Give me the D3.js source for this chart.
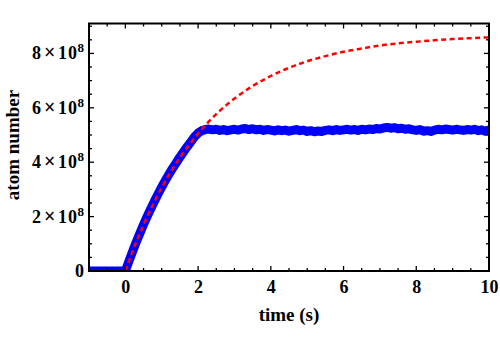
<!DOCTYPE html>
<html>
<head>
<meta charset="utf-8">
<script src="https://cdn.jsdelivr.net/npm/d3@7"></script>
<style>
  html, body { margin: 0; padding: 0; background: #fff; }
  svg { display: block; }
  text { font-family: "Liberation Serif", "DejaVu Serif", serif; font-weight: bold; fill: #000; }
</style>
</head>
<body>
<svg id="chart" width="500" height="350"></svg>
<script>
// Measured atom number (units of 1e8) sampled every 0.1 s from -1 s to 10 s
const measTime = d3.range(0, 111).map(i => Math.round((i * 0.1 - 1) * 10) / 10);
const measAtoms = [
  0, 0, 0, 0, 0, 0, 0, 0, 0, 0, 0,
  0.37, 0.72, 1.07, 1.39, 1.71, 2.01, 2.29, 2.57, 2.83, 3.09,
  3.33, 3.56, 3.78, 3.98, 4.19, 4.38, 4.57, 4.75, 4.93, 5.07,
  5.16, 5.20,
  5.22, 5.19, 5.21, 5.17, 5.20, 5.16, 5.19, 5.21, 5.18, 5.22,
  5.24, 5.20, 5.23, 5.19, 5.21, 5.17, 5.20, 5.18, 5.15, 5.19,
  5.16, 5.18, 5.14, 5.17, 5.20, 5.16, 5.18, 5.13, 5.16, 5.12,
  5.15, 5.13, 5.17, 5.19, 5.16, 5.20, 5.17, 5.19, 5.21, 5.18,
  5.20, 5.17, 5.21, 5.19, 5.22, 5.20, 5.24, 5.22, 5.26, 5.28,
  5.25, 5.27, 5.23, 5.25, 5.21, 5.23, 5.19, 5.17, 5.20, 5.14,
  5.16, 5.13, 5.18, 5.21, 5.19, 5.22, 5.20, 5.18, 5.21, 5.19,
  5.17, 5.20, 5.18, 5.21, 5.16, 5.19, 5.14, 5.18
];

// Loading curve (units of 1e8)
const fitTime  = [0, 0.25, 0.5, 0.75, 1, 1.25, 1.5, 1.75, 2, 2.5, 3, 3.5, 4, 4.5, 5, 5.5, 6, 6.5, 7, 7.5, 8, 8.5, 9, 9.5, 10];
const fitAtoms = [0, 0.90, 1.70, 2.42, 3.07, 3.65, 4.17, 4.63, 5.05, 5.77, 6.34, 6.80, 7.17, 7.47, 7.71, 7.90, 8.06, 8.18, 8.29, 8.37, 8.43, 8.48, 8.53, 8.56, 8.59];

const xMajorTicks = [0, 2, 4, 6, 8, 10];
const yMajorTicks = [0, 2, 4, 6, 8];   // units of 1e8
const xLabel = "time (s)";
const yLabel = "atom number";

const svg = d3.select("#chart");
const frame = { left: 89, right: 489, top: 23.5, bottom: 271 };

const x = d3.scaleLinear().domain([-1, 10]).range([frame.left, frame.right]);
const y = d3.scaleLinear().domain([0, 9.1]).range([frame.bottom, frame.top]);

svg.append("clipPath").attr("id", "plotArea")
  .append("rect")
  .attr("x", frame.left).attr("y", frame.top)
  .attr("width", frame.right - frame.left).attr("height", frame.bottom - frame.top);

const plot = svg.append("g").attr("clip-path", "url(#plotArea)");

const meas = measTime.map((t, i) => [t, measAtoms[i]]);
const fit = fitTime.map((t, i) => [t, fitAtoms[i]]);

const line = d3.line().x(d => x(d[0])).y(d => y(d[1]));

plot.append("path")
  .datum(meas)
  .attr("d", line)
  .attr("fill", "none")
  .attr("stroke", "#0000ff")
  .attr("stroke-width", 9)
  .attr("stroke-linejoin", "round")
  .attr("stroke-linecap", "round");

plot.append("path")
  .datum(fit)
  .attr("d", line.curve(d3.curveMonotoneX))
  .attr("fill", "none")
  .attr("stroke", "#ff0000")
  .attr("stroke-width", 2.5)
  .attr("stroke-dasharray", "5,3.5");

// Frame with inward ticks on all four sides
const xMinor = d3.range(-1, 10.01, 0.5).filter(v => !xMajorTicks.includes(v));
const yMinor = d3.range(0, 9.01, 0.5).filter(v => !yMajorTicks.includes(v));
const majorLen = 5, minorLen = 3;

const ticks = svg.append("g").attr("stroke", "#000").attr("stroke-width", 1.3);
xMajorTicks.concat(xMinor).forEach(v => {
  const len = xMajorTicks.includes(v) ? majorLen : minorLen;
  ticks.append("line").attr("x1", x(v)).attr("x2", x(v)).attr("y1", frame.bottom).attr("y2", frame.bottom - len);
  ticks.append("line").attr("x1", x(v)).attr("x2", x(v)).attr("y1", frame.top).attr("y2", frame.top + len);
});
yMajorTicks.concat(yMinor).forEach(v => {
  const len = yMajorTicks.includes(v) ? majorLen : minorLen;
  ticks.append("line").attr("y1", y(v)).attr("y2", y(v)).attr("x1", frame.left).attr("x2", frame.left + len);
  ticks.append("line").attr("y1", y(v)).attr("y2", y(v)).attr("x1", frame.right).attr("x2", frame.right - len);
});

svg.append("rect")
  .attr("x", frame.left).attr("y", frame.top)
  .attr("width", frame.right - frame.left).attr("height", frame.bottom - frame.top)
  .attr("fill", "none").attr("stroke", "#000").attr("stroke-width", 2);

// x tick labels through a d3 axis
const gx = svg.append("g")
  .attr("transform", `translate(0,${frame.bottom})`)
  .call(d3.axisBottom(x).tickValues(xMajorTicks).tickSize(0).tickPadding(0))
  .attr("font-family", null).attr("font-size", null);
gx.select(".domain").remove();
gx.selectAll("text")
  .attr("y", 22).attr("dy", null)
  .attr("fill", "#000")
  .style("font-size", "18px")
  .style("font-family", "'Liberation Serif', serif")
  .style("font-weight", "bold");

// y tick labels: "n×10^8"
const yl = svg.append("g");
yMajorTicks.forEach(v => {
  const t = yl.append("text")
    .attr("x", 84).attr("y", y(v) + 6)
    .attr("text-anchor", "end")
    .style("font-size", "18px");
  if (v === 0) { t.text("0"); return; }
  t.append("tspan").text(String(v));
  t.append("tspan").attr("dx", 3).style("font-size", "20px").text("×");
  t.append("tspan").attr("dx", 2.5).style("letter-spacing", "1px").text("10");
  t.append("tspan").attr("dy", -7).attr("dx", -0.5).style("font-size", "13px").text("8");
});

svg.append("text")
  .attr("x", (frame.left + frame.right) / 2).attr("y", 321)
  .attr("text-anchor", "middle")
  .style("font-size", "19px")
  .text(xLabel);

svg.append("text")
  .attr("transform", `translate(19,${145}) rotate(-90)`)
  .attr("text-anchor", "middle")
  .style("font-size", "19px")
  .text(yLabel);
</script>
</body>
</html>
